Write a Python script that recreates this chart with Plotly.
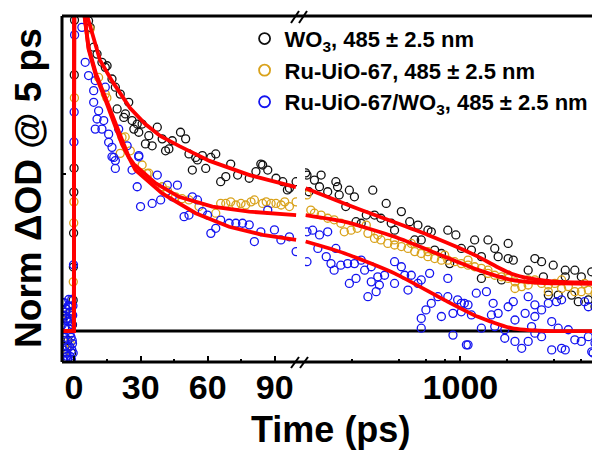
import plotly.graph_objects as go

# ---------------- data (time in ps, normalized dOD) ----------------
wo3_t = [-5.0, -4.2, -3.4, -2.6, -1.8, -1.0, -0.6,
         -0.3, -0.2, -0.1, 0.0, 0.1, 0.2, 0.3,
         6.6, 7.3, 8.9, 10.4, 12.6, 14.1, 14.9, 17.1, 18.6, 20.8, 24.6, 19.4, 23.1, 22.4,
         26.1, 28.4, 30.6, 26.9, 29.1, 37.4, 33.6, 32.1, 35.1, 39.6, 41.1, 42.6, 44.1,
         47.8, 50.1, 51.6, 54.6, 57.6, 61.4, 63.6, 70.3, 83.8, 53.1, 59.1, 65.8, 68.1,
         73.4, 78.6, 81.6, 84.6, 86.9, 90.6, 93.6, 96.6, 99.6, 55.4, 95.7,
         103, 127, 115, 124, 106, 140, 158, 162, 193, 208, 273, 166, 183, 333, 417, 248,
         280, 213, 230, 308, 359, 472, 533, 618, 650, 830, 935, 1235, 1505, 2030, 1664,
         2030, 1014, 1178, 1365, 1750, 2190, 3015, 3330, 2731, 3958, 4730, 5450, 7000,
         3420, 4730, 6000, 3680, 4260, 5200, 5737, 6660, 7350, 683, 755, 508, 560, 377,
         1365, 1840, 853, 101, 7500]
wo3_y = [0.04, -0.05, 0.07, -0.03, 0.06, -0.07, 0.02,
         0.098, 0.203, 0.311, 0.441, 0.517, 0.813, 0.987,
         0.985, 0.964, 0.901, 0.879, 0.853, 0.837, 0.842, 0.800, 0.774, 0.752, 0.726, 0.705, 0.689, 0.678,
         0.668, 0.657, 0.657, 0.641, 0.631, 0.647, 0.620, 0.594, 0.588, 0.610, 0.572, 0.578, 0.604,
         0.631, 0.610, 0.562, 0.551, 0.557, 0.551, 0.562, 0.530, 0.530, 0.511, 0.516, 0.474, 0.490,
         0.495, 0.485, 0.506, 0.527, 0.511, 0.485, 0.474, 0.453, 0.474, 0.543, 0.448,
         0.495, 0.495, 0.479, 0.458, 0.442, 0.442, 0.474, 0.458, 0.447, 0.426, 0.447, 0.432, 0.395, 0.405, 0.379, 0.368,
         0.368, 0.347, 0.342, 0.358, 0.342, 0.347, 0.336, 0.320, 0.315, 0.320, 0.305, 0.289, 0.289, 0.278, 0.262,
         0.230, 0.262, 0.257, 0.236, 0.236, 0.225, 0.230, 0.220, 0.193, 0.209, 0.193, 0.193, 0.188,
         0.172, 0.172, 0.172, 0.114, 0.114, 0.114, 0.093, 0.099, 0.077, 0.257, 0.246, 0.289, 0.289, 0.320,
         0.167, 0.162, 0.214, 0.502, 0.077]

ru_t = [-4.8, -4.0, -3.2, -2.4, -1.6, -0.8,
        -0.25, -0.05, 0.05, 0.25,
        7.3, 11.1, 14.1, 14.8, 20.8, 21.6, 23.0, 25.3, 30.6, 32.8, 33.6, 39.6, 45.6, 51.6,
        56.1, 63.6, 68.1, 72.6, 77.0, 80.9, 84.6, 88.4, 92.9, 96.6, 99.6, 65.8, 70.3,
        74.9, 79.4, 86.2, 90.6, 94.5, 42.0, 48.5,
        103, 109, 115, 127, 140, 154, 170, 179, 198, 217, 254, 280, 308, 341, 377, 417,
        460, 508, 560, 618, 683, 755, 830, 917, 1014, 1120, 1235, 1365, 1505, 1664, 1840,
        2030, 2245, 2480, 2731, 3015, 3330, 3680, 4050, 4480, 4950, 5450, 6000, 6660, 7350,
        7700, 248, 294, 377, 483, 618, 792, 1120, 1505, 2030, 2731, 4480, 6300, 2245, 3680]
ru_y = [-0.03, 0.06, -0.06, 0.04, -0.04, 0.05,
        0.156, 0.343, 0.410, 0.740,
        0.959, 0.805, 0.752, 0.740, 0.564, 0.615, 0.616, 0.572, 0.527, 0.500, 0.501, 0.458, 0.426, 0.416,
        0.395, 0.374, 0.405, 0.400, 0.400, 0.416, 0.405, 0.405, 0.400, 0.395, 0.410, 0.405, 0.410,
        0.405, 0.410, 0.410, 0.405, 0.410, 0.445, 0.420,
        0.432, 0.384, 0.374, 0.368, 0.358, 0.353, 0.342, 0.315, 0.320, 0.326, 0.310, 0.294, 0.289, 0.278, 0.273, 0.268,
        0.262, 0.252, 0.246, 0.236, 0.230, 0.225, 0.225, 0.220, 0.214, 0.209, 0.204, 0.199, 0.183, 0.177, 0.172,
        0.167, 0.156, 0.141, 0.146, 0.162, 0.151, 0.146, 0.151, 0.135, 0.141, 0.125, 0.125, 0.130, 0.120,
        0.141, 0.336, 0.305, 0.289, 0.278, 0.252, 0.241, 0.225, 0.193, 0.177, 0.162, 0.162, 0.151, 0.135, 0.125]

ruwo3_t = [-5.1, -4.7, -4.3, -3.9, -3.5, -3.1, -2.7, -2.3, -1.9, -1.5, -1.1, -0.8, -0.6, -0.4,
           -4.9, -4.1, -3.3, -2.5, -1.7, -0.9,
           -5.2, -4.95, -4.55, -4.15, -3.75, -3.35, -2.95, -2.55, -2.15, -1.75, -1.35, -0.95,
           -0.7, -0.5, -0.3, -4.45, -3.6, -2.8, -2.0, -1.25,
           -0.15, 0.05, 0.15, 0.35,
           3.6, 5.1, 6.6, 9.6, 8.9, 14.1, 8.9, 11.1, 10.4, 13.4, 9.6, 12.6, 15.6, 20.1, 15.6,
           17.1, 23.9, 29.1, 17.9, 18.6, 17.1, 18.6, 29.1, 26.1, 28.4, 29.9, 35.1, 37.4, 41.9,
           46.4, 38.9, 44.1, 49.4, 51.6, 53.1, 55.4, 57.6, 59.9, 61.4, 63.6, 65.8, 69.6, 72.6,
           75.6, 78.6, 80.9, 83.8, 86.9, 89.9, 92.8, 96.6, 99.6,
           103, 112, 124, 140, 158, 121, 137, 103, 147, 154, 170, 188, 208, 230, 267, 242,
           213, 193, 267, 294, 325, 377, 417, 438, 483, 533, 377, 301, 287, 254, 460, 560,
           634, 830, 717, 830, 960, 1014, 1120, 1266, 1471, 650, 600, 560, 755, 896, 1014,
           1178, 1060, 1584, 1750, 1625, 2030, 2190, 2731, 3015, 3330, 3680, 4150, 4480,
           6300, 6660, 2610, 3015, 2245, 1365, 1930, 2245, 2731, 3015, 3870, 4260, 4950,
           5450, 6000, 6660, 7350, 7000, 4480, 3870, 2480, 1930, 1120, 896, 560, 1664, 2870,
           3330, 4730, 1093, 7140]
ruwo3_y = [0.05, -0.06, 0.09, -0.02, 0.07, -0.08, 0.03, 0.10, -0.05, 0.06, -0.09, 0.02, -0.04, 0.08,
           -0.09, 0.01, -0.07, 0.08, -0.01, -0.06,
           0.02, 0.09, -0.03, 0.05, -0.09, 0.04, -0.05, 0.01, 0.08, -0.08, 0.03, 0.10,
           -0.03, 0.05, -0.07, -0.01, 0.06, -0.09, 0.04, -0.02,
           0.210, 0.600, 0.695, 0.940,
           0.964, 0.853, 0.811, 0.795, 0.763, 0.774, 0.726, 0.699, 0.673, 0.668, 0.641, 0.641, 0.625, 0.641, 0.599,
           0.583, 0.588, 0.557, 0.551, 0.541, 0.553, 0.516, 0.553, 0.511, 0.458, 0.395, 0.405, 0.495, 0.463,
           0.463, 0.416, 0.426, 0.363, 0.368, 0.426, 0.416, 0.379, 0.368, 0.310, 0.326, 0.352, 0.342, 0.342,
           0.342, 0.337, 0.284, 0.315, 0.384, 0.321, 0.289, 0.299, 0.252,
           0.315, 0.320, 0.305, 0.315, 0.262, 0.262, 0.236, 0.220, 0.214, 0.193, 0.209, 0.214, 0.214, 0.225, 0.204, 0.193,
           0.167, 0.151, 0.156, 0.172, 0.177, 0.220, 0.204, 0.177, 0.177, 0.151, 0.151, 0.146, 0.125, 0.109, 0.130, 0.162,
           0.183, 0.167, 0.109, 0.109, 0.099, 0.088, 0.083, 0.120, 0.125, 0.088, 0.067, 0.040, 0.046, 0.056, 0.061,
           0.051, 0.088, 0.051, 0.056, 0.088, 0.077, 0.093, 0.109, 0.083, 0.067, 0.088, 0.093, 0.099,
           0.093, 0.077, 0.056, 0.046, 0.035, 0.009, 0.004, -0.033, -0.033, -0.007, 0.030, 0.009, 0.004,
           -0.028, -0.033, -0.018, -0.039, -0.066, -0.055, -0.060, -0.055, -0.023, -0.044, -0.013, 0.009, 0.014, 0.014,
           -0.018, -0.060, -0.044, -0.070]

# fitted curves
fit_wo3_t = [-5.3, -0.05, 0.0, 0.3, 2.0, 6.0, 11.7, 17.1, 25.2, 32.0, 38.7, 47.3, 60.8, 78.8, 99.5,
             101, 179, 230, 377, 618, 1000, 1299, 1700, 2133, 2731, 3499, 4480, 6000, 7925]
fit_wo3_y = [0.0, 0.0, 0.0, 1.6, 1.3, 1.0, 0.860, 0.794, 0.708, 0.657, 0.619, 0.587, 0.540, 0.495, 0.457,
             0.453, 0.405, 0.384, 0.345, 0.305, 0.262, 0.236, 0.205, 0.182, 0.168, 0.160, 0.156, 0.154, 0.153]

fit_ru_t = [-5.3, -0.05, 0.0, 0.3, 2.0, 4.8, 6.6, 10.0, 14.1, 21.6, 24.6, 26.9, 36.6, 47.1, 62.1, 78.6, 99.6,
            101, 179, 377, 792, 1299, 2133, 3000, 4478, 7925]
fit_ru_y = [0.0, 0.0, 0.0, 1.6, 1.3, 1.0, 0.900, 0.815, 0.742, 0.604, 0.553, 0.530, 0.469, 0.426, 0.395, 0.379, 0.368,
            0.368, 0.347, 0.299, 0.236, 0.194, 0.162, 0.154, 0.151, 0.149]

fit_ruwo3_t = [-5.3, -0.05, 0.0, 0.3, 2.0, 4.8, 6.6, 10.0, 14.1, 21.6, 27.6, 39.6, 54.6, 69.6, 84.6, 99.6,
               101, 179, 377, 792, 1299, 2133, 3499, 7925]
fit_ruwo3_y = [0.0, 0.0, 0.0, 1.6, 1.3, 1.0, 0.895, 0.808, 0.735, 0.592, 0.511, 0.437, 0.374, 0.331, 0.305, 0.289,
               0.284, 0.247, 0.183, 0.098, 0.045, 0.009, 0.0, 0.0]

labels = ["WO<sub>3</sub>, 485 \u00b1 2.5 nm",
          "Ru-UiO-67, 485 \u00b1 2.5 nm",
          "Ru-UiO-67/WO<sub>3</sub>, 485 \u00b1 2.5 nm"]
colors = ["#111111", "#D9A21B", "#1414F0"]
x_ticks_lin = [0, 30, 60, 90]
x_ticks_log = [1000]
T_BREAK = 100

FONT = "Liberation Sans, Arial, sans-serif"

fig = go.Figure()

series = [(wo3_t, wo3_y), (ru_t, ru_y), (ruwo3_t, ruwo3_y)]
for (t, y), c in zip(series, colors):
    tl = [a for a in t if a <= T_BREAK]
    yl = [b for a, b in zip(t, y) if a <= T_BREAK]
    tr = [a for a in t if a > T_BREAK]
    yr = [b for a, b in zip(t, y) if a > T_BREAK]
    mk = dict(symbol="circle-open", size=8, color=c, line=dict(width=1.3, color=c))
    fig.add_trace(go.Scatter(x=tl, y=yl, mode="markers", marker=mk, showlegend=False,
                             xaxis="x", yaxis="y"))
    fig.add_trace(go.Scatter(x=tr, y=yr, mode="markers", marker=mk, showlegend=False,
                             xaxis="x2", yaxis="y"))

fits = [(fit_wo3_t, fit_wo3_y), (fit_ru_t, fit_ru_y), (fit_ruwo3_t, fit_ruwo3_y)]
for t, y in fits:
    tl = [a for a in t if a <= T_BREAK]
    yl = [b for a, b in zip(t, y) if a <= T_BREAK]
    tr = [a for a in t if a > T_BREAK]
    yr = [b for a, b in zip(t, y) if a > T_BREAK]
    ln = dict(color="#FF0000", width=3.8, shape="spline", smoothing=0.6)
    fig.add_trace(go.Scatter(x=tl, y=yl, mode="lines", line=dict(color="#FF0000", width=3.8),
                             showlegend=False, xaxis="x", yaxis="y"))
    fig.add_trace(go.Scatter(x=tr, y=yr, mode="lines", line=ln,
                             showlegend=False, xaxis="x2", yaxis="y"))

for lab, c in zip(labels, colors):
    fig.add_trace(go.Scatter(x=[None], y=[None], mode="markers", name="<b>" + lab + "</b>",
                             marker=dict(symbol="circle-open", size=11, color=c, line=dict(width=1.8, color=c)),
                             xaxis="x2", yaxis="y"))

tickfont = dict(family=FONT, size=34, color="black", weight="bold")
# page body has an 8px offset, so the figure is 8px smaller and margins shifted
fig.update_layout(
    width=592, height=444,
    margin=dict(l=54, r=1, t=8, b=90),
    paper_bgcolor="white", plot_bgcolor="rgba(0,0,0,0)",
    xaxis=dict(domain=[0, 0.4376], range=[-5.3, 100], tickvals=x_ticks_lin,
               ticks="inside", ticklen=6, tickwidth=2, tickcolor="black",
               minor=dict(tickvals=[15, 45, 75], ticks="inside", ticklen=3, tickwidth=2, tickcolor="black"),
               showgrid=False, zeroline=False, showline=False, tickfont=tickfont,
               anchor="y", ticklabelstandoff=2),
    xaxis2=dict(domain=[0.4525, 1], type="log", range=[2, 3.892], tickvals=x_ticks_log,
                ticktext=[str(v) for v in x_ticks_log],
                ticks="inside", ticklen=6, tickwidth=2, tickcolor="black",
                minor=dict(tickvals=[200, 400, 600, 800, 2000, 4000, 6000], ticks="inside",
                           ticklen=3, tickwidth=2, tickcolor="black"),
                showgrid=False, zeroline=False, showline=False, tickfont=tickfont,
                anchor="y", ticklabelstandoff=2),
    yaxis=dict(domain=[0, 1], range=[-0.0984, 1.0], tickvals=[0.5], showticklabels=False,
               ticks="inside", ticklen=4, tickwidth=2, tickcolor="black",
               showgrid=False, zeroline=False, showline=False),
    legend=dict(x=0.34, y=0.995, xanchor="left", yanchor="top", bgcolor="rgba(0,0,0,0)",
                font=dict(family=FONT, size=22, color="black"), tracegroupgap=0,
                itemwidth=30),
    font=dict(family=FONT),
)

def px2paper(px, py):
    return (px - 62) / 537.0, (362 - py) / 346.0

shapes = []
# frame
shapes.append(dict(type="line", xref="paper", yref="paper", x0=0, x1=1, y0=0, y1=0,
                   line=dict(color="black", width=3)))
shapes.append(dict(type="line", xref="paper", yref="paper", x0=0, x1=1, y0=1, y1=1,
                   line=dict(color="black", width=3)))
shapes.append(dict(type="line", xref="paper", yref="paper", x0=0, x1=0, y0=0, y1=1,
                   line=dict(color="black", width=3)))
shapes.append(dict(type="line", xref="paper", yref="paper", x0=1, x1=1, y0=0, y1=1,
                   line=dict(color="#444444", width=1)))
# zero line
shapes.append(dict(type="line", xref="paper", yref="y", x0=0, x1=1, y0=0, y1=0,
                   line=dict(color="black", width=3), layer="below"))
# axis break marks
for (ax0, ay0, ax1, ay1) in [(291, 23, 299, 11), (299, 23, 307, 11),
                             (291, 368, 299, 357), (300, 368, 308, 357)]:
    x0, y0 = px2paper(ax0, ay0)
    x1, y1 = px2paper(ax1, ay1)
    shapes.append(dict(type="line", xref="paper", yref="paper", x0=x0, y0=y0, x1=x1, y1=y1,
                       line=dict(color="black", width=2)))
fig.update_layout(shapes=shapes)

fig.add_annotation(text="<b>Norm \u0394OD @ 5 ps</b>", xref="paper", yref="paper",
                   x=-0.0615, y=0.503, xanchor="center", yanchor="middle", textangle=-90,
                   showarrow=False, font=dict(family=FONT, size=37, color="black"))
fig.add_annotation(text="<b>Time (ps)</b>", xref="paper", yref="paper",
                   x=0.5, y=-0.1965, xanchor="center", yanchor="middle",
                   showarrow=False, font=dict(family=FONT, size=36, color="black"))

fig.write_html("out.html")
